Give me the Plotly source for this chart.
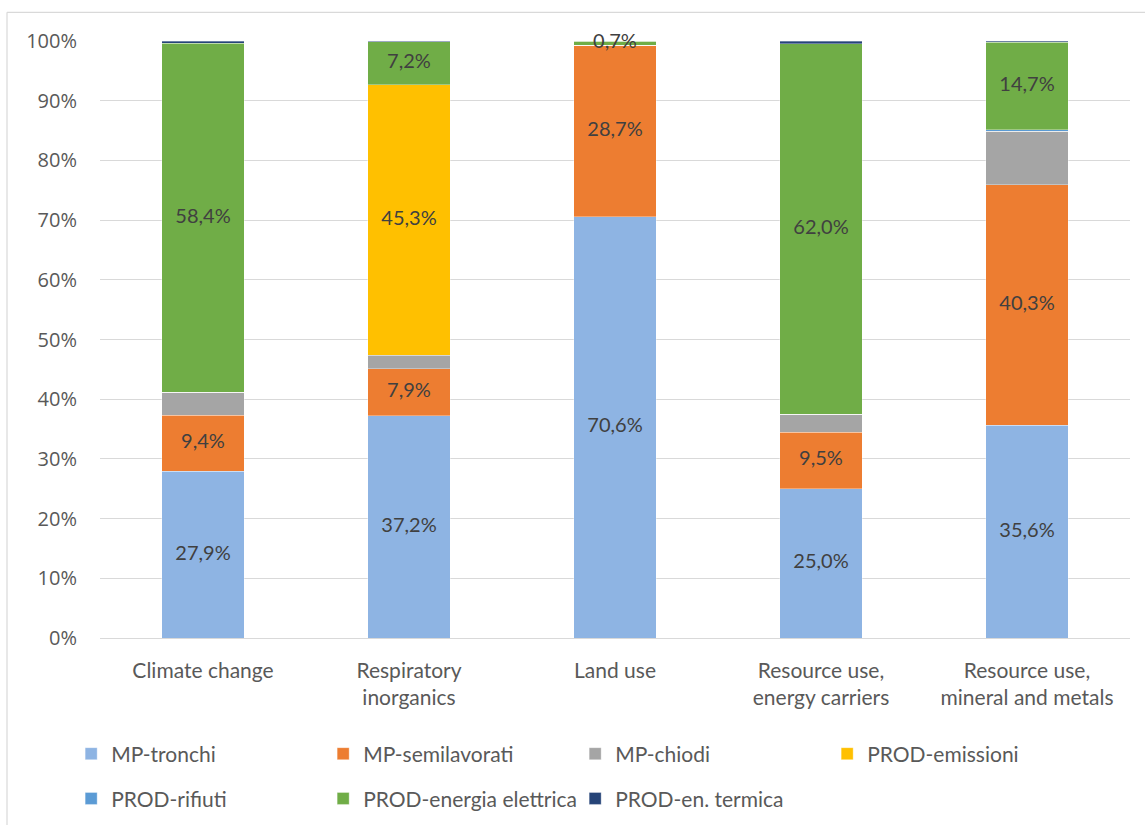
import plotly.graph_objects as go

categories = [
    "Climate change",
    "Respiratory<br>inorganics",
    "Land use",
    "Resource use,<br>energy carriers",
    "Resource use,<br>mineral and metals",
]

# contribution shares (%) per life-cycle stage
mp_tronchi = [27.9, 37.2, 70.6, 25.0, 35.6]
mp_semilavorati = [9.4, 7.9, 28.7, 9.5, 40.3]
mp_chiodi = [3.9, 2.3, 0.0, 3.0, 9.0]
prod_emissioni = [0.0, 45.3, 0.0, 0.0, 0.0]
prod_rifiuti = [0.0, 0.0, 0.0, 0.0, 0.2]
prod_energia = [58.4, 7.2, 0.7, 62.0, 14.7]
prod_termica = [0.4, 0.1, 0.0, 0.5, 0.2]

series = [
    ("MP-tronchi", mp_tronchi, "#8EB4E3", True, "legend"),
    ("MP-semilavorati", mp_semilavorati, "#ED7D31", True, "legend"),
    ("MP-chiodi", mp_chiodi, "#A5A5A5", False, "legend"),
    ("PROD-emissioni", prod_emissioni, "#FFC000", True, "legend"),
    ("PROD-rifiuti", prod_rifiuti, "#5B9BD5", False, "legend2"),
    ("PROD-energia elettrica", prod_energia, "#70AD47", True, "legend2"),
    ("PROD-en. termica", prod_termica, "#264478", False, "legend2"),
]

BODY_FONT = "Lato, 'Open Sans', sans-serif"
TEXT_GREY = "#595959"
LABEL_GREY = "#404040"

fig = go.Figure()
base = [0.0] * len(categories)
label_x, label_y, label_t = [], [], []
for name, vals, color, labelled, leg in series:
    fig.add_trace(go.Bar(
        name=name, x=categories, y=vals, marker_color=color,
        marker_line=dict(color="rgba(255,255,255,0.55)", width=0.6),
        width=0.4, legend=leg,
    ))
    if labelled:
        for i, v in enumerate(vals):
            if v > 0:
                label_x.append(categories[i])
                label_y.append(base[i] + v / 2)
                label_t.append(f"{v:.1f}%".replace(".", ","))
    base = [b + v for b, v in zip(base, vals)]

fig.add_trace(go.Scatter(
    x=label_x, y=label_y, text=label_t, mode="text",
    textfont=dict(family=BODY_FONT, size=20, color=LABEL_GREY),
    showlegend=False, hoverinfo="skip", cliponaxis=False,
))

# light outer frame on the left and top edges
fig.add_shape(type="line", xref="paper", yref="paper",
              x0=-0.0903, x1=-0.0903, y0=-0.32, y1=1.048,
              line=dict(color="#D9D9D9", width=1.2))
fig.add_shape(type="line", xref="paper", yref="paper",
              x0=-0.0903, x1=1.02, y0=1.048, y1=1.048,
              line=dict(color="#D9D9D9", width=1.2))

legend_common = dict(
    orientation="h", xanchor="left", yanchor="top",
    font=dict(family=BODY_FONT, size=21, color=TEXT_GREY),
    entrywidth=207, entrywidthmode="pixels", traceorder="normal",
    bgcolor="rgba(0,0,0,0)", itemclick=False,
)

fig.update_layout(
    width=1145, height=825,
    margin=dict(l=100, r=15, t=41, b=187, autoexpand=False),
    paper_bgcolor="white", plot_bgcolor="white",
    barmode="stack", bargap=0.6,
    showlegend=True,
    legend=dict(x=-0.028, y=-0.16, **legend_common),
    legend2=dict(x=-0.028, y=-0.235, **legend_common),
    xaxis=dict(
        tickfont=dict(family=BODY_FONT, size=21, color=TEXT_GREY),
        showline=False, ticks="", ticklabelstandoff=18, automargin=False,
    ),
    yaxis=dict(
        range=[0, 100], dtick=10, ticksuffix="%",
        tickfont=dict(family="'Open Sans', sans-serif", size=20, color=TEXT_GREY),
        gridcolor="#D9D9D9", gridwidth=1.3,
        zeroline=True, zerolinecolor="#D9D9D9", zerolinewidth=1.3,
        ticks="", ticklabelstandoff=22, automargin=False,
    ),
)

fig.write_html("out.html")
